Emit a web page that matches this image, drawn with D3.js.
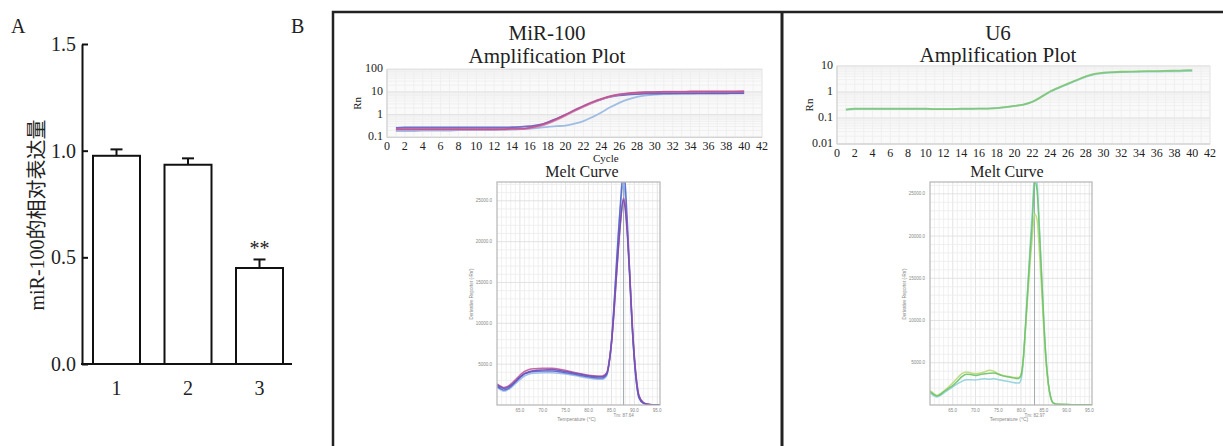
<!DOCTYPE html>
<meta charset="utf-8">
<script src="https://d3js.org/d3.v7.min.js"></script>
<style>
  body { margin: 0; background: #fff; }
  text { font-family: "Liberation Serif", "Times New Roman", serif; fill: #222; }
  .cjk { font-family: "Liberation Serif", "Noto Sans CJK SC", serif; }
  .tiny { font-family: "Liberation Sans", sans-serif; fill: #888; }
</style>
<div id="chart"></div>
<script>
// ---- panel A data ----
var groups = ["1", "2", "3"];
var relExpr = [0.976, 0.934, 0.45];
var relErr = [0.03, 0.03, 0.04];
var yTicksA = [0, 0.5, 1.0, 1.5];

// ---- amplification plots (Rn per cycle) ----
var cycles = d3.range(1, 41);
var mirAmpPink = [0.23,0.23,0.23,0.23,0.23,0.23,0.23,0.23,0.23,0.23,0.23,0.23,0.23,0.24,0.24,0.27,0.33,0.44,0.65,1.0,1.6,2.4,3.6,5.0,6.5,7.8,8.7,9.3,9.7,9.9,10.0,10.1,10.1,10.2,10.2,10.3,10.3,10.4,10.4,10.5];
var mirAmpMagenta = [0.22,0.22,0.22,0.22,0.22,0.22,0.22,0.22,0.22,0.22,0.22,0.22,0.22,0.23,0.23,0.25,0.30,0.40,0.58,0.9,1.45,2.2,3.3,4.7,6.2,7.6,8.6,9.3,9.8,10.1,10.2,10.3,10.4,10.5,10.5,10.6,10.6,10.7,10.7,10.8];
var mirAmpPurple = [0.26,0.27,0.27,0.27,0.27,0.27,0.27,0.27,0.27,0.27,0.27,0.27,0.27,0.28,0.29,0.31,0.35,0.46,0.66,0.98,1.5,2.3,3.4,4.7,6.0,7.0,7.7,8.1,8.4,8.5,8.6,8.6,8.7,8.7,8.7,8.8,8.8,8.8,8.9,8.9];
var mirAmpLight = [0.19,0.19,0.19,0.20,0.20,0.20,0.20,0.21,0.21,0.21,0.21,0.21,0.22,0.22,0.23,0.24,0.26,0.29,0.31,0.33,0.40,0.52,0.78,1.25,2.1,3.3,4.7,6.0,7.0,7.6,8.0,8.2,8.4,8.5,8.6,8.6,8.7,8.7,8.8,8.8];
var u6AmpGreen = [0.21,0.23,0.23,0.23,0.23,0.23,0.23,0.23,0.23,0.23,0.22,0.22,0.22,0.23,0.23,0.23,0.23,0.24,0.26,0.29,0.33,0.42,0.65,1.05,1.5,2.1,2.9,4.0,5.0,5.5,5.8,6.0,6.1,6.2,6.3,6.4,6.5,6.6,6.8,7.0];
var u6AmpCyan = [0.21,0.22,0.22,0.22,0.22,0.22,0.22,0.22,0.22,0.22,0.22,0.22,0.22,0.22,0.22,0.23,0.23,0.24,0.26,0.29,0.33,0.42,0.64,1.02,1.45,2.0,2.8,3.8,4.8,5.3,5.6,5.8,5.9,6.0,6.1,6.1,6.2,6.2,6.3,6.3];
var cycleTicks = d3.range(0, 43, 2);

// ---- melt curves (derivative reporter vs temperature) ----
var mirTemps = [60,61,61.5,62,63,64,65,66,67,68,70,72,74,76,78,80,82,83,84,84.5,85,85.5,86,86.5,87,87.6,88,88.5,89,89.5,90,90.5,91,92,93,94,95.6];
var mirMeltPurple = [2450,2150,2050,2080,2400,2900,3450,3850,4080,4200,4300,4350,4200,4000,3800,3580,3450,3450,3900,5200,7500,11000,15200,19200,22600,25100,24000,20500,15500,10000,5800,2800,1100,250,80,40,20];
var mirMeltBlue = [2300,1950,1850,1900,2250,2800,3350,3800,4000,4100,4150,4150,4050,3850,3650,3450,3300,3300,3800,5300,7800,11800,16500,21000,25000,28500,27000,22000,16000,10000,5500,2500,900,200,60,30,20];
var mirMeltMagenta = [2600,2250,2150,2200,2550,3100,3650,4100,4350,4450,4500,4500,4350,4100,3850,3650,3550,3550,4000,5300,7600,11000,15000,19000,22500,25300,24500,21000,16000,10500,6000,3000,1200,300,90,40,20];
var mirMeltLight = [2200,1800,1700,1750,2100,2600,3100,3550,3800,3900,3950,3950,3850,3700,3500,3300,3150,3150,3600,5100,7600,11500,16000,20500,24500,27000,25500,21000,15500,9800,5400,2500,900,200,60,30,20];
var u6Temps = [60,61,61.5,62,63,64,65,66,67,68,69,70,71,72,73,74,75,76,77,78,79,79.5,80,80.5,81,81.5,82,82.5,83,83.5,84,84.5,85,85.5,86,86.5,87,88,90,92,95.6];
var u6MeltGreen = [1600,1200,1070,1150,1550,1950,2300,2800,3350,3650,3600,3500,3600,3700,3750,3800,3650,3450,3350,3250,3150,3150,3500,5500,9500,13800,18000,21800,26500,25500,21000,15500,10000,5500,2600,1000,300,80,50,40,30];
var u6MeltLime = [1700,1300,1150,1250,1650,2100,2600,3200,3700,3900,3800,3700,3800,3900,4100,4000,3700,3500,3400,3300,3250,3250,3600,5400,9000,13000,16800,20000,22600,22000,18500,14000,9000,5000,2400,900,280,80,50,40,30];
var u6MeltCyan = [1450,1050,950,1050,1400,1800,2150,2500,2800,3000,3000,2950,3050,3100,3050,3100,3000,2900,2800,2700,2600,2600,3000,5200,9500,14200,18800,23000,27500,26500,21500,15800,10000,5400,2500,950,280,70,50,40,30];
var meltTempTicks = [65, 70, 75, 80, 85, 90, 95];
var meltYTicks = [5000, 10000, 15000, 20000, 25000];

var width = 1223, height = 446;
var svg = d3.select("#chart").append("svg")
  .attr("width", width).attr("height", height);
svg.append("rect").attr("width", width).attr("height", height).attr("fill", "#fff");

// ================= Panel A =================
var yA = d3.scaleLinear().domain([0, 1.5]).range([364, 44]);
var xA = d3.scalePoint().domain(groups).range([116.5, 259.5]);
var barW = 47;

svg.append("text").attr("x", 11).attr("y", 33).attr("font-size", 20).text("A");
svg.append("text").attr("x", 291).attr("y", 33).attr("font-size", 20).text("B");

var gA = svg.append("g");
gA.selectAll("rect.bar").data(groups).join("rect")
  .attr("x", function (d) { return xA(d) - barW / 2; })
  .attr("y", function (d, i) { return yA(relExpr[i]); })
  .attr("width", barW)
  .attr("height", function (d, i) { return yA(0) - yA(relExpr[i]); })
  .attr("fill", "#fff").attr("stroke", "#111").attr("stroke-width", 2);

gA.selectAll("line.err").data(groups).join("line")
  .attr("x1", function (d) { return xA(d); }).attr("x2", function (d) { return xA(d); })
  .attr("y1", function (d, i) { return yA(relExpr[i]); })
  .attr("y2", function (d, i) { return yA(relExpr[i] + relErr[i]); })
  .attr("stroke", "#111").attr("stroke-width", 2);
gA.selectAll("line.cap").data(groups).join("line")
  .attr("x1", function (d) { return xA(d) - 6; }).attr("x2", function (d) { return xA(d) + 6; })
  .attr("y1", function (d, i) { return yA(relExpr[i] + relErr[i]); })
  .attr("y2", function (d, i) { return yA(relExpr[i] + relErr[i]); })
  .attr("stroke", "#111").attr("stroke-width", 2);

gA.append("text").attr("x", xA("3")).attr("y", yA(relExpr[2] + relErr[2]) - 4)
  .attr("text-anchor", "middle").attr("font-size", 20).text("**");

var axisY = gA.append("g").attr("transform", "translate(82,0)")
  .call(d3.axisRight(yA).tickValues(yTicksA).tickFormat(d3.format(".1f")).tickSize(6).tickSizeOuter(0));
axisY.select(".domain").attr("stroke", "#111").attr("stroke-width", 2);
axisY.selectAll(".tick line").attr("stroke", "#111").attr("stroke-width", 2);
axisY.selectAll(".tick text").attr("x", -6).attr("text-anchor", "end")
  .attr("font-size", 20).attr("font-family", "Liberation Serif, serif").attr("fill", "#222");

gA.append("line").attr("x1", 81).attr("x2", 292).attr("y1", yA(0)).attr("y2", yA(0))
  .attr("stroke", "#111").attr("stroke-width", 2);
gA.selectAll("text.xl").data(groups).join("text")
  .attr("x", function (d) { return xA(d); }).attr("y", 395)
  .attr("text-anchor", "middle").attr("font-size", 20).text(function (d) { return d; });

gA.append("text").attr("class", "cjk")
  .attr("transform", "translate(44,215) rotate(-90)")
  .attr("text-anchor", "middle").attr("font-size", 20)
  .text("miR-100的相对表达量");

// ================= Panel B frame =================
svg.append("rect").attr("x", 333).attr("y", 12).attr("width", 960).attr("height", 500)
  .attr("fill", "none").attr("stroke", "#222").attr("stroke-width", 2.5);
svg.append("line").attr("x1", 782).attr("x2", 782).attr("y1", 12).attr("y2", 446)
  .attr("stroke", "#222").attr("stroke-width", 3);

// ================= amplification plot =================
function ampPlot(cfg) {
  var g = svg.append("g");
  var x = d3.scaleLinear().domain([0, 42]).range([cfg.x0, cfg.x1]);
  var y = d3.scaleLog().domain(cfg.yDomain).range([cfg.yBottom, cfg.yTop]);

  g.append("text").attr("x", cfg.titleX).attr("y", 40).attr("text-anchor", "middle")
    .attr("font-size", 21).text(cfg.title);
  g.append("text").attr("x", cfg.titleX).attr("y", cfg.subY).attr("text-anchor", "middle")
    .attr("font-size", 21).text("Amplification Plot");

  g.append("rect").attr("x", cfg.x0).attr("y", cfg.yTop)
    .attr("width", cfg.x1 - cfg.x0).attr("height", cfg.yBottom - cfg.yTop)
    .attr("fill", "#fafafa").attr("stroke", "#e2e2e2");
  g.selectAll("line.vg").data(d3.range(1, 42)).join("line")
    .attr("x1", x).attr("x2", x).attr("y1", cfg.yTop).attr("y2", cfg.yBottom)
    .attr("stroke", "#eeeeee").attr("stroke-width", 0.8);
  g.selectAll("line.hg").data(y.ticks()).join("line")
    .attr("x1", cfg.x0).attr("x2", cfg.x1).attr("y1", y).attr("y2", y)
    .attr("stroke", "#eeeeee").attr("stroke-width", 0.8);
  g.selectAll("line.hd").data(cfg.yLabels).join("line")
    .attr("x1", cfg.x0).attr("x2", cfg.x1).attr("y1", y).attr("y2", y)
    .attr("stroke", "#e2e2e2").attr("stroke-width", 1);
  g.append("line").attr("x1", cfg.x0).attr("x2", cfg.x0).attr("y1", cfg.yTop).attr("y2", cfg.yBottom)
    .attr("stroke", "#cfcfcf");
  g.append("line").attr("x1", cfg.x0).attr("x2", cfg.x1).attr("y1", cfg.yBottom).attr("y2", cfg.yBottom)
    .attr("stroke", "#cfcfcf");

  var line = d3.line().curve(d3.curveMonotoneX)
    .x(function (d, i) { return x(cycles[i]); })
    .y(function (d) { return y(d); });
  cfg.series.forEach(function (s) {
    g.append("path").datum(s.values).attr("d", line)
      .attr("fill", "none").attr("stroke", s.color).attr("stroke-width", 1.8).attr("stroke-opacity", 0.85);
  });

  g.selectAll("text.xt").data(cycleTicks).join("text")
    .attr("x", x).attr("y", cfg.yBottom + 13).attr("text-anchor", "middle")
    .attr("font-size", 12).text(function (d) { return d; });
  g.selectAll("text.yt").data(cfg.yLabels).join("text")
    .attr("x", cfg.x0 - 4).attr("y", function (d) { return y(d) + 3; })
    .attr("text-anchor", "end").attr("font-size", 12)
    .text(function (d) { return d; });
  g.append("text").attr("transform", "translate(" + cfg.rnX + "," + ((cfg.yTop + cfg.yBottom) / 2) + ") rotate(-90)")
    .attr("text-anchor", "middle").attr("font-size", 11).text("Rn");
  if (cfg.cycleLabel) {
    g.append("text").attr("x", x(24.5)).attr("y", 161.5).attr("text-anchor", "middle")
      .attr("font-size", 11).text("Cycle");
  }
  g.append("text").attr("x", cfg.meltTitleX).attr("y", 177).attr("text-anchor", "middle")
    .attr("font-size", 16).text("Melt Curve");
}

ampPlot({
  title: "MiR-100", titleX: 547, subY: 63,
  x0: 387, x1: 762, yTop: 69.3, yBottom: 137.3, yDomain: [0.1, 100],
  yLabels: [0.1, 1, 10, 100], rnX: 361, cycleLabel: true, meltTitleX: 582,
  series: [
    { values: mirAmpLight, color: "#8fb3e2" },
    { values: mirAmpPurple, color: "#5a55c0" },
    { values: mirAmpMagenta, color: "#d77fb0" },
    { values: mirAmpPink, color: "#b8508f" }
  ]
});
ampPlot({
  title: "U6", titleX: 998, subY: 62,
  x0: 837, x1: 1210, yTop: 66, yBottom: 144, yDomain: [0.01, 10],
  yLabels: [0.01, 0.1, 1, 10], rnX: 813, cycleLabel: false, meltTitleX: 1007,
  series: [
    { values: u6AmpCyan, color: "#8ccfdc" },
    { values: u6AmpGreen, color: "#7cc567" }
  ]
});

// ================= melt curves =================
function meltPlot(cfg) {
  var g = svg.append("g");
  var x = d3.scaleLinear().domain([60, 95.6]).range([cfg.x0, cfg.x1]);
  var y = d3.scaleLinear().domain([0, cfg.yMax]).range([405, 182]);
  var clipId = "clip" + cfg.id;
  svg.append("clipPath").attr("id", clipId).append("rect")
    .attr("x", cfg.x0).attr("y", 182).attr("width", cfg.x1 - cfg.x0).attr("height", 223);

  g.append("rect").attr("x", cfg.x0).attr("y", 182).attr("width", cfg.x1 - cfg.x0).attr("height", 223)
    .attr("fill", "#fff");
  g.selectAll("line.vg").data(d3.range(61, 96)).join("line")
    .attr("x1", x).attr("x2", x).attr("y1", 182).attr("y2", 405)
    .attr("stroke", function (d) { return d % 5 === 0 ? "#dcdcdc" : "#ececec"; }).attr("stroke-width", 0.8);
  g.selectAll("line.hg").data(d3.range(1000, cfg.yMax, 1000)).join("line")
    .attr("x1", cfg.x0).attr("x2", cfg.x1).attr("y1", y).attr("y2", y)
    .attr("stroke", function (d) { return d % 5000 === 0 ? "#dcdcdc" : "#ececec"; }).attr("stroke-width", 0.8);

  g.append("line").attr("x1", x(cfg.tm)).attr("x2", x(cfg.tm)).attr("y1", 182).attr("y2", 405)
    .attr("stroke", "#a3aab0").attr("stroke-width", 1);

  var line = d3.line().curve(d3.curveMonotoneX)
    .x(function (d, i) { return x(cfg.temps[i]); })
    .y(function (d) { return y(d); });
  var lines = g.append("g").attr("clip-path", "url(#" + clipId + ")");
  cfg.series.forEach(function (s) {
    lines.append("path").datum(s.values).attr("d", line)
      .attr("fill", "none").attr("stroke", s.color).attr("stroke-width", 1.5).attr("stroke-opacity", 0.9);
  });

  g.append("rect").attr("x", cfg.x0).attr("y", 182).attr("width", cfg.x1 - cfg.x0).attr("height", 223)
    .attr("fill", "none").attr("stroke", "#b5b5b5").attr("stroke-width", 1.2);

  g.selectAll("text.yt").data(meltYTicks).join("text").attr("class", "tiny")
    .attr("x", cfg.x0 - 5).attr("y", function (d) { return y(d) + 1.5; })
    .attr("text-anchor", "end").attr("font-size", 4.5)
    .text(function (d) { return d.toFixed(1); });
  g.selectAll("text.xt").data(meltTempTicks).join("text").attr("class", "tiny")
    .attr("x", x).attr("y", 412).attr("text-anchor", "middle").attr("font-size", 4.5)
    .text(function (d) { return d.toFixed(1); });
  g.append("text").attr("class", "tiny").attr("x", (cfg.x0 + cfg.x1) / 2 - 2).attr("y", 421)
    .attr("text-anchor", "middle").attr("font-size", 5).text("Temperature (°C)");
  g.append("text").attr("class", "tiny").attr("x", x(cfg.tm)).attr("y", 417)
    .attr("text-anchor", "middle").attr("font-size", 4.5).attr("fill", "#6a9bd6")
    .text("Tm: " + cfg.tm.toFixed(2));
  g.append("text").attr("class", "tiny")
    .attr("transform", "translate(" + (cfg.x0 - 24) + ",294) rotate(-90)")
    .attr("text-anchor", "middle").attr("font-size", 4.5).text("Derivative Reporter (-Rn')");
}

meltPlot({
  id: "mir", x0: 497, x1: 660, yMax: 27300, tm: 87.64, temps: mirTemps,
  series: [
    { values: mirMeltLight, color: "#93b8e6" },
    { values: mirMeltBlue, color: "#4f63d0" },
    { values: mirMeltMagenta, color: "#c55a98" },
    { values: mirMeltPurple, color: "#6e4fb8" }
  ]
});
meltPlot({
  id: "u6", x0: 930, x1: 1092, yMax: 26400, tm: 82.97, temps: u6Temps,
  series: [
    { values: u6MeltCyan, color: "#8fd0dc" },
    { values: u6MeltLime, color: "#b9d978" },
    { values: u6MeltGreen, color: "#6cc36a" }
  ]
});
</script>
